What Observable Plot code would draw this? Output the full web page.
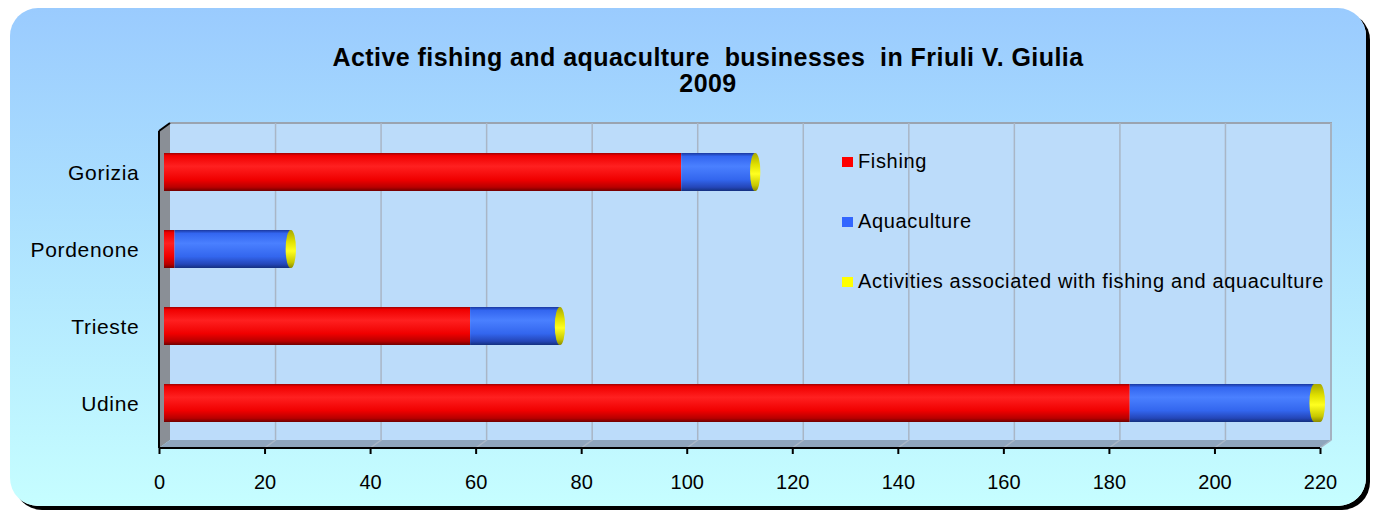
<!DOCTYPE html>
<html><head><meta charset="utf-8">
<script src="https://cdn.jsdelivr.net/npm/d3@7"></script>
<script src="https://cdn.jsdelivr.net/npm/@observablehq/plot@0.6"></script>
<style>
body{margin:0;width:1378px;height:515px;background:#fff;position:relative;overflow:hidden;font-family:"Liberation Sans",Arial,sans-serif;}
#card{position:absolute;left:10px;top:8px;width:1356px;height:498px;border-radius:28px;background:linear-gradient(#9acbfe,#c6feff);box-shadow:4px 4px 0 #000;}
#title{position:absolute;left:0;width:1416px;top:44px;text-align:center;font-weight:bold;font-size:25px;line-height:26px;letter-spacing:0.45px;color:#000;}
#chart{position:absolute;left:0;top:100px;}
#legend{position:absolute;left:842px;top:148px;font-size:20px;color:#000;}
#legend div{height:60px;line-height:26px;white-space:nowrap;letter-spacing:0.65px}
#legend span.sw{display:inline-block;width:11px;height:10px;margin-right:5px;vertical-align:1px}
</style></head>
<body>
<div id="card"></div>
<div id="title">Active fishing and aquaculture&nbsp; businesses&nbsp; in Friuli V. Giulia<br>2009</div>
<div id="chart"></div>
<div id="legend"></div>
<script>
const categories = ["Gorizia", "Pordenone", "Trieste", "Udine"];
const seriesNames = ["Fishing", "Aquaculture", "Activities associated with fishing and aquaculture"];
const fishing = [98, 2, 58, 183];
const aquaculture = [14, 22, 17, 35];
const activities = [1, 1, 1, 2];
const xTicks = [0, 20, 40, 60, 80, 100, 120, 140, 160, 180, 200, 220];
const legendColors = ["#ff0000", "#3366ff", "#ffff00"];

const stacked = categories.flatMap((c, i) => [
  {category: c, series: seriesNames[0], value: fishing[i]},
  {category: c, series: seriesNames[1], value: aquaculture[i]}
]);
const caps = categories.map((c, i) => ({
  category: c, series: seriesNames[2],
  start: fishing[i] + aquaculture[i],
  end: fishing[i] + aquaculture[i] + activities[i]
}));

const plot = Plot.plot({
  width: 1378, height: 400,
  marginLeft: 159, marginRight: 58, marginTop: 23, marginBottom: 52,
  style: {background: "transparent", fontFamily: "Liberation Sans, Arial, sans-serif", fontSize: "20px", color: "#000"},
  x: {domain: [0, 220], label: null},
  y: {domain: categories, paddingInner: 0.51, paddingOuter: 0.36, label: null},
  color: {domain: seriesNames, range: ["url(#gRed)", "url(#gBlue)", "url(#gYel)"]},
  marks: [
    Plot.barX(stacked, Plot.stackX({x: "value", y: "category", fill: "series", order: seriesNames, dx: 5, dy: 2})),
    Plot.barX(caps, {x1: "start", x2: "end", y: "category", fill: "series", dx: 5, dy: 2, insetLeft: -5, rx: 5, ry: 19}),
    Plot.axisX({ticks: xTicks, tickSize: 6, tickPadding: 20, strokeWidth: 2, fontSize: 20, letterSpacing: 0.5}),
    Plot.axisY({tickSize: 0, tickPadding: 20, fontSize: 21, dy: 3, style: "letter-spacing:0.7px"})
  ]
});
document.getElementById("chart").appendChild(plot);
d3.select(plot).selectAll("g[aria-label='y-axis tick label'] text").style("letter-spacing", "0.7px");

// gradients + 3D walls
const svg = d3.select(plot);
const defs = svg.insert("defs", ":first-child");
function grad(id, stops) {
  const g = defs.append("linearGradient").attr("id", id).attr("x1", 0).attr("y1", 0).attr("x2", 0).attr("y2", 1);
  stops.forEach(([o, c]) => g.append("stop").attr("offset", o).attr("stop-color", c));
}
grad("gRed", [[0, "#a00000"], [0.07, "#f00000"], [0.35, "#ff2020"], [0.7, "#f00000"], [0.9, "#b80000"], [1, "#700000"]]);
grad("gBlue", [[0, "#1a38a0"], [0.09, "#3366f0"], [0.35, "#4a80ff"], [0.7, "#3366ee"], [0.9, "#2446b8"], [1, "#14307f"]]);
grad("gYel", [[0, "#a8a800"], [0.3, "#e0e000"], [0.55, "#ffff20"], [0.85, "#c8c800"], [1, "#8a8a00"]]);

const xs = plot.scale("x");
const x0 = xs.apply(0), x1 = xs.apply(220);
const wallTop = 23, wallBottom = 400 - 52, dx = 11, dy = 8;
const bg = svg.insert("g", "defs + *");
bg.append("rect").attr("x", x0 + dx).attr("y", wallTop).attr("width", x1 - x0).attr("height", wallBottom - dy - wallTop).attr("fill", "#bcdcfa");
bg.append("path").attr("d", `M${x0 + dx},${wallTop}H${x1 + dx}V${wallBottom - dy}`).attr("fill", "none").attr("stroke", "#9aa4b0").attr("stroke-width", 2);
bg.append("path").attr("d", `M${x0},${wallTop + dy}L${x0 + dx},${wallTop}V${wallBottom - dy}L${x0},${wallBottom}Z`).attr("fill", "#8a8f96");
bg.append("path").attr("d", `M${x0},${wallTop + dy}L${x0 + dx},${wallTop}`).attr("stroke", "#000").attr("stroke-width", 2);
bg.append("path").attr("d", `M${x0},${wallBottom}L${x0 + dx},${wallBottom - dy}H${x1 + dx}L${x1},${wallBottom}Z`).attr("fill", "#8fa5bd");
xTicks.slice(1).forEach(t => {
  const x = xs.apply(t);
  bg.append("path").attr("d", `M${x + dx},${wallTop}V${wallBottom - dy}L${x},${wallBottom}`).attr("fill", "none").attr("stroke", "#a9b6c6").attr("stroke-width", 1.5);
});
svg.append("line").attr("x1", x0).attr("x2", x1).attr("y1", wallBottom).attr("y2", wallBottom).attr("stroke", "#000").attr("stroke-width", 2);
svg.append("line").attr("x1", x0).attr("x2", x0).attr("y1", wallTop + dy).attr("y2", wallBottom).attr("stroke", "#000").attr("stroke-width", 2);

const leg = d3.select("#legend");
seriesNames.forEach((s, i) => {
  const row = leg.append("div");
  row.append("span").attr("class", "sw").style("background", legendColors[i]);
  row.append("span").text(s);
});
</script>
</body></html>
